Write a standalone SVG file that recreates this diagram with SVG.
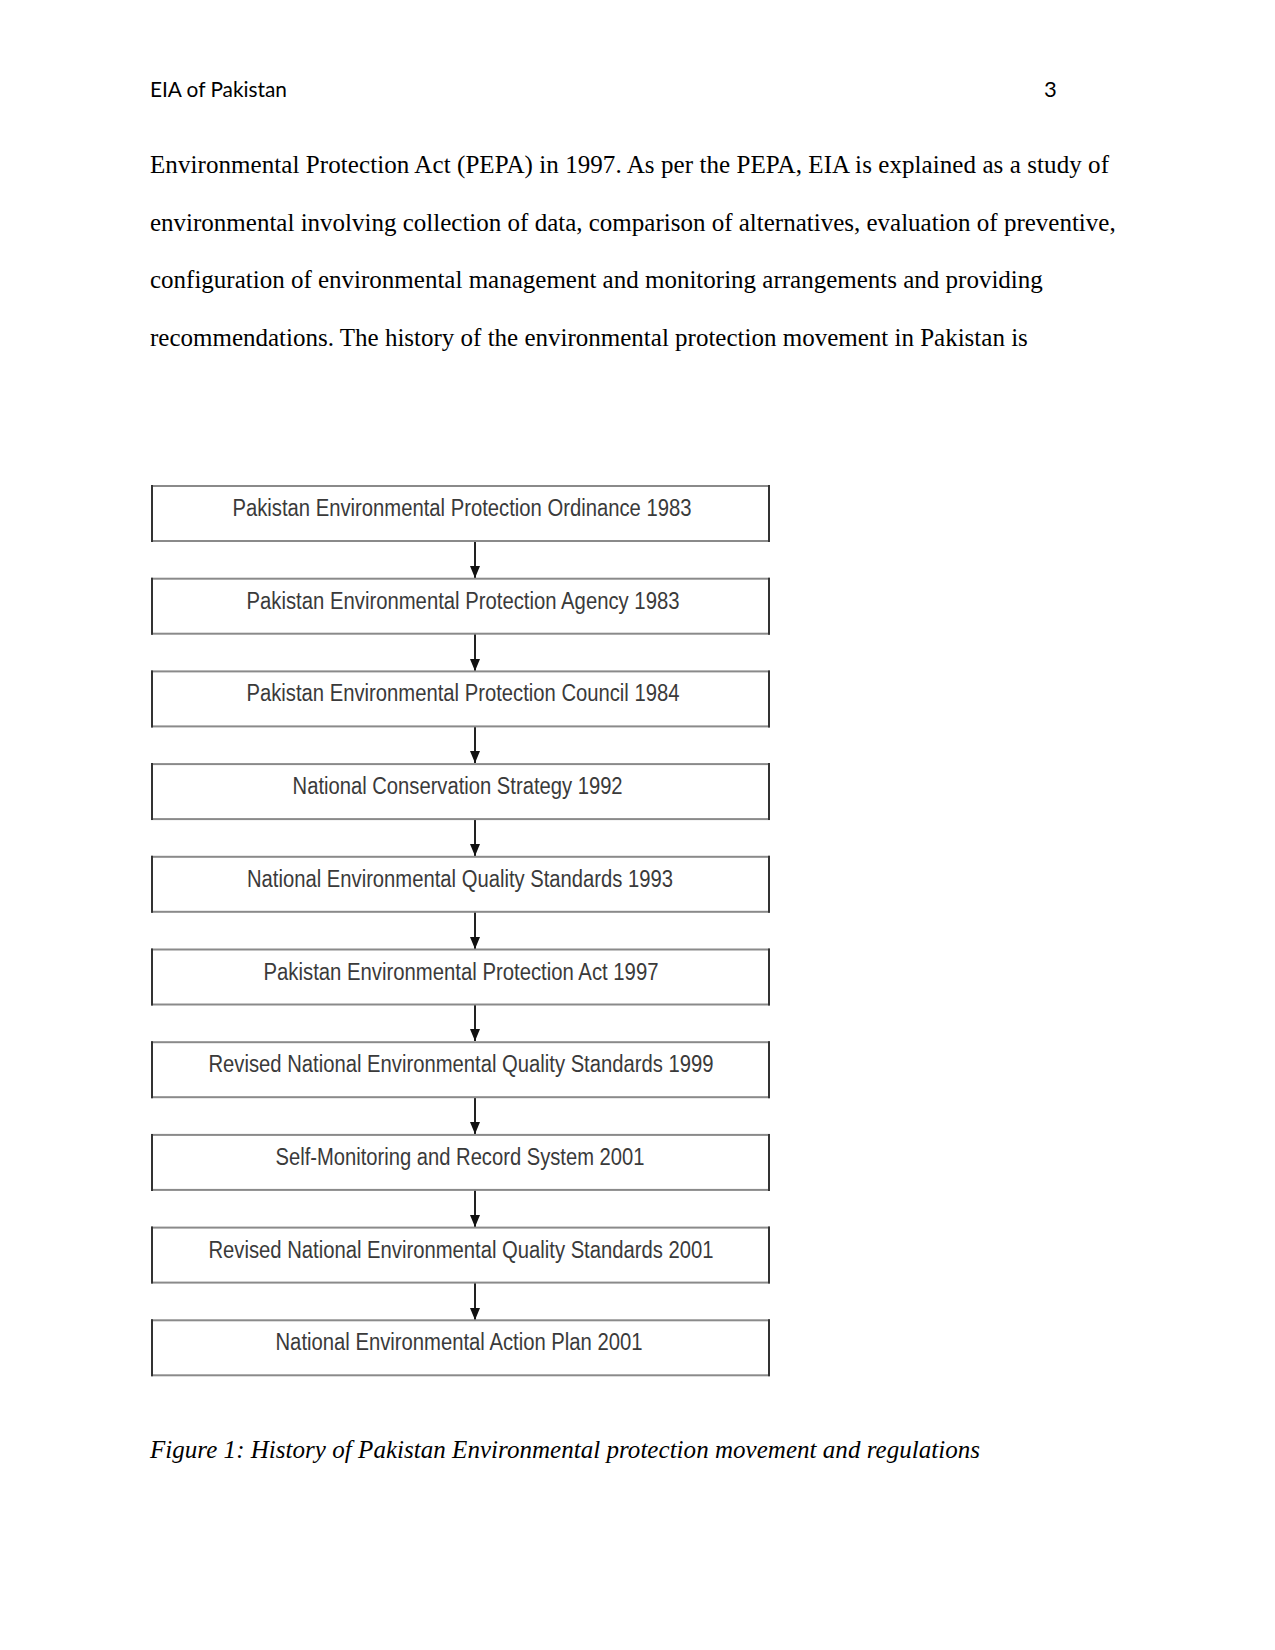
<svg xmlns="http://www.w3.org/2000/svg" width="1275" height="1650" viewBox="0 0 1275 1650">
<style>
.hdr{font-family:Lato,"Liberation Sans",sans-serif;font-size:22px;fill:#000}
.body{font-family:"Liberation Serif",serif;font-size:25px;fill:#000}
.cap{font-family:"Liberation Serif",serif;font-size:25px;font-style:italic;fill:#000}
.box{fill:#fff;stroke:#8a8a8a;stroke-width:2}
.side{stroke:#333;stroke-width:2}
.lbl{font-family:"Liberation Sans",Arial,sans-serif;font-size:23px;fill:#3a3a3a;text-anchor:middle}
.conn{stroke:#222;stroke-width:2;fill:none;marker-end:url(#ah)}
</style>
<defs>
<marker id="ah" viewBox="0 0 12 10" refX="12" refY="5" markerWidth="12" markerHeight="10" markerUnits="userSpaceOnUse" orient="auto">
<path d="M0,0 L12,5 L0,10 Z" fill="#111"/>
</marker>
</defs>
<rect width="1275" height="1650" fill="#fff"/>
<text class="hdr" x="150" y="97" textLength="137" lengthAdjust="spacingAndGlyphs">EIA of Pakistan</text>
<text class="hdr" x="1044" y="97">3</text>
<text class="body" x="150" y="173" textLength="959">Environmental Protection Act (PEPA) in 1997. As per the PEPA, EIA is explained as a study of</text>
<text class="body" x="150" y="230.5">environmental involving collection of data, comparison of alternatives, evaluation of preventive,</text>
<text class="body" x="150" y="288">configuration of environmental management and monitoring arrangements and providing</text>
<text class="body" x="150" y="345.5">recommendations. The history of the environmental protection movement in Pakistan is</text>
<g id="connectors">
<line class="conn" x1="475" y1="541" x2="475" y2="578"/>
<line class="conn" x1="475" y1="634" x2="475" y2="671"/>
<line class="conn" x1="475" y1="726" x2="475" y2="763"/>
<line class="conn" x1="475" y1="819" x2="475" y2="856"/>
<line class="conn" x1="475" y1="912" x2="475" y2="949"/>
<line class="conn" x1="475" y1="1004" x2="475" y2="1041"/>
<line class="conn" x1="475" y1="1097" x2="475" y2="1134"/>
<line class="conn" x1="475" y1="1190" x2="475" y2="1227"/>
<line class="conn" x1="475" y1="1282" x2="475" y2="1320"/>
</g>
<g id="n1"><rect class="box" x="152" y="486" width="617" height="55"/><line class="side" x1="152" y1="485" x2="152" y2="542"/><line class="side" x1="769" y1="485" x2="769" y2="542"/><text class="lbl" x="462" y="516" textLength="459" lengthAdjust="spacingAndGlyphs">Pakistan Environmental Protection Ordinance 1983</text></g>
<g id="n2"><rect class="box" x="152" y="578.7" width="617" height="55"/><line class="side" x1="152" y1="577.7" x2="152" y2="634.7"/><line class="side" x1="769" y1="577.7" x2="769" y2="634.7"/><text class="lbl" x="463" y="608.7" textLength="433" lengthAdjust="spacingAndGlyphs">Pakistan Environmental Protection Agency 1983</text></g>
<g id="n3"><rect class="box" x="152" y="671.4" width="617" height="55"/><line class="side" x1="152" y1="670.4" x2="152" y2="727.4"/><line class="side" x1="769" y1="670.4" x2="769" y2="727.4"/><text class="lbl" x="463" y="701.4" textLength="433" lengthAdjust="spacingAndGlyphs">Pakistan Environmental Protection Council 1984</text></g>
<g id="n4"><rect class="box" x="152" y="764.1" width="617" height="55"/><line class="side" x1="152" y1="763.1" x2="152" y2="820.1"/><line class="side" x1="769" y1="763.1" x2="769" y2="820.1"/><text class="lbl" x="457.6" y="794.1" textLength="330" lengthAdjust="spacingAndGlyphs">National Conservation Strategy 1992</text></g>
<g id="n5"><rect class="box" x="152" y="856.8" width="617" height="55"/><line class="side" x1="152" y1="855.8" x2="152" y2="912.8"/><line class="side" x1="769" y1="855.8" x2="769" y2="912.8"/><text class="lbl" x="460" y="886.8" textLength="426" lengthAdjust="spacingAndGlyphs">National Environmental Quality Standards 1993</text></g>
<g id="n6"><rect class="box" x="152" y="949.5" width="617" height="55"/><line class="side" x1="152" y1="948.5" x2="152" y2="1005.5"/><line class="side" x1="769" y1="948.5" x2="769" y2="1005.5"/><text class="lbl" x="461" y="979.5" textLength="395" lengthAdjust="spacingAndGlyphs">Pakistan Environmental Protection Act 1997</text></g>
<g id="n7"><rect class="box" x="152" y="1042.2" width="617" height="55"/><line class="side" x1="152" y1="1041.2" x2="152" y2="1098.2"/><line class="side" x1="769" y1="1041.2" x2="769" y2="1098.2"/><text class="lbl" x="461" y="1072.2" textLength="505" lengthAdjust="spacingAndGlyphs">Revised National Environmental Quality Standards 1999</text></g>
<g id="n8"><rect class="box" x="152" y="1134.9" width="617" height="55"/><line class="side" x1="152" y1="1133.9" x2="152" y2="1190.9"/><line class="side" x1="769" y1="1133.9" x2="769" y2="1190.9"/><text class="lbl" x="460" y="1164.9" textLength="369" lengthAdjust="spacingAndGlyphs">Self-Monitoring and Record System 2001</text></g>
<g id="n9"><rect class="box" x="152" y="1227.6" width="617" height="55"/><line class="side" x1="152" y1="1226.6" x2="152" y2="1283.6"/><line class="side" x1="769" y1="1226.6" x2="769" y2="1283.6"/><text class="lbl" x="461" y="1257.6" textLength="505" lengthAdjust="spacingAndGlyphs">Revised National Environmental Quality Standards 2001</text></g>
<g id="n10"><rect class="box" x="152" y="1320.3" width="617" height="55"/><line class="side" x1="152" y1="1319.3" x2="152" y2="1376.3"/><line class="side" x1="769" y1="1319.3" x2="769" y2="1376.3"/><text class="lbl" x="459" y="1350.3" textLength="367" lengthAdjust="spacingAndGlyphs">National Environmental Action Plan 2001</text></g>
<text class="cap" x="150" y="1458" textLength="830">Figure 1: History of Pakistan Environmental protection movement and regulations</text>
</svg>
